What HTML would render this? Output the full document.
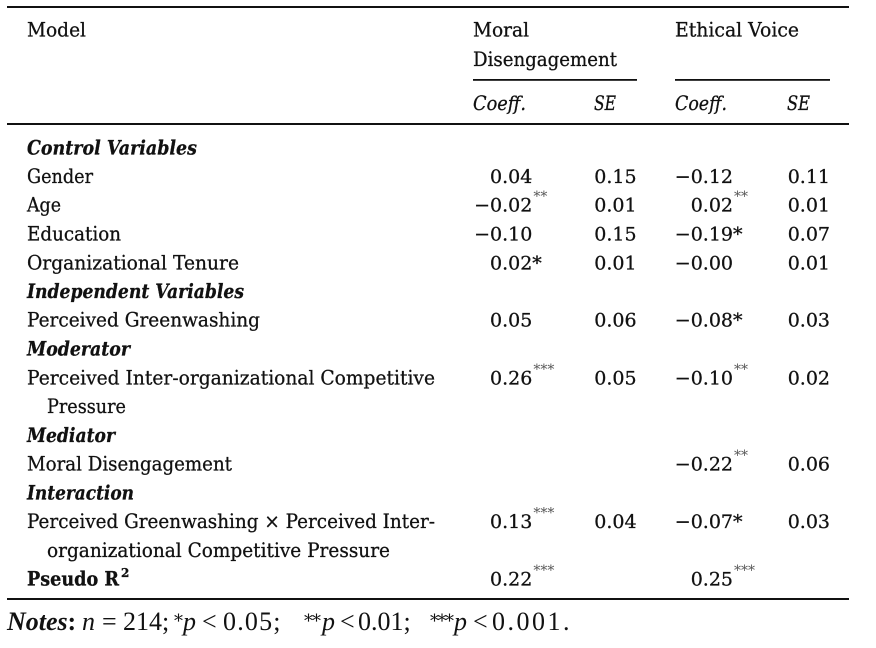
<!DOCTYPE html>
<html><head><meta charset="utf-8"><style>
html,body{margin:0;padding:0;background:#fff;}
svg{display:block;}
</style></head><body>
<svg width="876" height="648" viewBox="0 0 876 648" xmlns="http://www.w3.org/2000/svg">
<rect width="876" height="648" fill="#fff"/>
<g fill="#111">
<rect x="7" y="6" width="842" height="2"/>
<rect x="473" y="79" width="164" height="1.8"/>
<rect x="675" y="79" width="155" height="1.8"/>
<rect x="7" y="123" width="842" height="2"/>
<rect x="7" y="598" width="842" height="2"/>
</g>
<g font-family="'DejaVu Serif', serif" font-size="20" fill="#111" stroke="#111" stroke-width="0.3">
<!-- header -->
<text x="27" y="36.7" textLength="59" lengthAdjust="spacingAndGlyphs">Model</text>
<text x="473" y="36.7" textLength="56" lengthAdjust="spacingAndGlyphs">Moral</text>
<text x="473" y="66" textLength="144" lengthAdjust="spacingAndGlyphs">Disengagement</text>
<text x="675" y="36.7" textLength="124" lengthAdjust="spacingAndGlyphs">Ethical Voice</text>
<g font-style="italic">
<text x="473" y="110" textLength="53" lengthAdjust="spacingAndGlyphs">Coeff.</text>
<text x="594" y="110" textLength="22" lengthAdjust="spacingAndGlyphs">SE</text>
<text x="675" y="110" textLength="52" lengthAdjust="spacingAndGlyphs">Coeff.</text>
<text x="787" y="110" textLength="23" lengthAdjust="spacingAndGlyphs">SE</text>
</g>
<!-- section heads -->
<g font-style="italic" font-weight="bold">
<text x="27" y="154.3" textLength="170" lengthAdjust="spacingAndGlyphs">Control Variables</text>
<text x="27" y="298" textLength="217" lengthAdjust="spacingAndGlyphs">Independent Variables</text>
<text x="27" y="355.5" textLength="103" lengthAdjust="spacingAndGlyphs">Moderator</text>
<text x="27" y="441.8" textLength="88" lengthAdjust="spacingAndGlyphs">Mediator</text>
<text x="27" y="499.3" textLength="107" lengthAdjust="spacingAndGlyphs">Interaction</text>
</g>
<!-- labels -->
<text x="27" y="183" textLength="66" lengthAdjust="spacingAndGlyphs">Gender</text>
<text x="27" y="211.7" textLength="34" lengthAdjust="spacingAndGlyphs">Age</text>
<text x="27" y="240.5" textLength="94" lengthAdjust="spacingAndGlyphs">Education</text>
<text x="27" y="269.3" textLength="212" lengthAdjust="spacingAndGlyphs">Organizational Tenure</text>
<text x="27" y="326.7" textLength="233" lengthAdjust="spacingAndGlyphs">Perceived Greenwashing</text>
<text x="27" y="384.3" textLength="408" lengthAdjust="spacingAndGlyphs">Perceived Inter-organizational Competitive</text>
<text x="47" y="413" textLength="79" lengthAdjust="spacingAndGlyphs">Pressure</text>
<text x="27" y="470.5" textLength="205" lengthAdjust="spacingAndGlyphs">Moral Disengagement</text>
<text x="27" y="528" textLength="408" lengthAdjust="spacingAndGlyphs">Perceived Greenwashing × Perceived Inter-</text>
<text x="47" y="556.8" textLength="343" lengthAdjust="spacingAndGlyphs">organizational Competitive Pressure</text>
<text x="27" y="585.5" font-weight="bold" textLength="92" lengthAdjust="spacingAndGlyphs">Pseudo R</text>
<text x="121" y="577" font-weight="bold" font-size="12">2</text>
</g>

<g font-family="'DejaVu Serif', serif" font-size="19" fill="#111" stroke="#111" stroke-width="0.3">
<!-- numbers: Gender -->
<text x="490" y="183">0.04</text>
<text x="594.3" y="183">0.15</text>
<text x="674.8" y="183">−0.12</text>
<text x="787.7" y="183">0.11</text>
<!-- Age -->
<text x="474.1" y="211.7">−0.02<tspan dx="1" dy="-10.5" font-size="14" fill="#555" stroke="none">**</tspan></text>
<text x="594.3" y="211.7">0.01</text>
<text x="690.7" y="211.7">0.02<tspan dx="1" dy="-10.5" font-size="14" fill="#555" stroke="none">**</tspan></text>
<text x="787.7" y="211.7">0.01</text>
<!-- Education -->
<text x="474.1" y="240.5">−0.10</text>
<text x="594.3" y="240.5">0.15</text>
<text x="674.8" y="240.5">−0.19*</text>
<text x="787.7" y="240.5">0.07</text>
<!-- Tenure -->
<text x="490" y="269.3">0.02*</text>
<text x="594.3" y="269.3">0.01</text>
<text x="674.8" y="269.3">−0.00</text>
<text x="787.7" y="269.3">0.01</text>
<!-- PG -->
<text x="490" y="326.7">0.05</text>
<text x="594.3" y="326.7">0.06</text>
<text x="674.8" y="326.7">−0.08*</text>
<text x="787.7" y="326.7">0.03</text>
<!-- PICP -->
<text x="490" y="384.3">0.26<tspan dx="1" dy="-10.5" font-size="14" fill="#555" stroke="none">***</tspan></text>
<text x="594.3" y="384.3">0.05</text>
<text x="674.8" y="384.3">−0.10<tspan dx="1" dy="-10.5" font-size="14" fill="#555" stroke="none">**</tspan></text>
<text x="787.7" y="384.3">0.02</text>
<!-- Moral Dis -->
<text x="674.8" y="470.5">−0.22<tspan dx="1" dy="-10.5" font-size="14" fill="#555" stroke="none">**</tspan></text>
<text x="787.7" y="470.5">0.06</text>
<!-- Interaction -->
<text x="490" y="528">0.13<tspan dx="1" dy="-10.5" font-size="14" fill="#555" stroke="none">***</tspan></text>
<text x="594.3" y="528">0.04</text>
<text x="674.8" y="528">−0.07*</text>
<text x="787.7" y="528">0.03</text>
<!-- Pseudo R2 -->
<text x="490" y="585.5">0.22<tspan dx="1" dy="-10.5" font-size="14" fill="#555" stroke="none">***</tspan></text>
<text x="690.7" y="585.5">0.25<tspan dx="1" dy="-10.5" font-size="14" fill="#555" stroke="none">***</tspan></text>
</g>

<!-- notes -->
<g font-family="'Liberation Serif', serif" font-size="26" fill="#111">
<text x="7" y="630" font-weight="bold" font-style="italic">Notes</text>
<text x="67.5" y="630" font-weight="bold">:</text>
<text x="82" y="630" font-style="italic">n</text>
<text x="102" y="630">=</text>
<text x="123" y="630">214;</text>
<text x="174" y="627" font-family="'DejaVu Serif', serif" font-size="18">*</text>
<text x="183" y="630" font-style="italic">p</text>
<text x="202" y="630">&lt;</text>
<text x="223" y="630" letter-spacing="1.2">0.05;</text>
<text x="304" y="627" font-family="'DejaVu Serif', serif" font-size="18" letter-spacing="-1">**</text>
<text x="322" y="630" font-style="italic">p</text>
<text x="340" y="630">&lt;</text>
<text x="358" y="630">0.01;</text>
<text x="430" y="627" font-family="'DejaVu Serif', serif" font-size="18" letter-spacing="-1.5">***</text>
<text x="454" y="630" font-style="italic">p</text>
<text x="473" y="630">&lt;</text>
<text x="492" y="630" letter-spacing="2.5">0.001.</text>
</g>
</svg>
</body></html>
